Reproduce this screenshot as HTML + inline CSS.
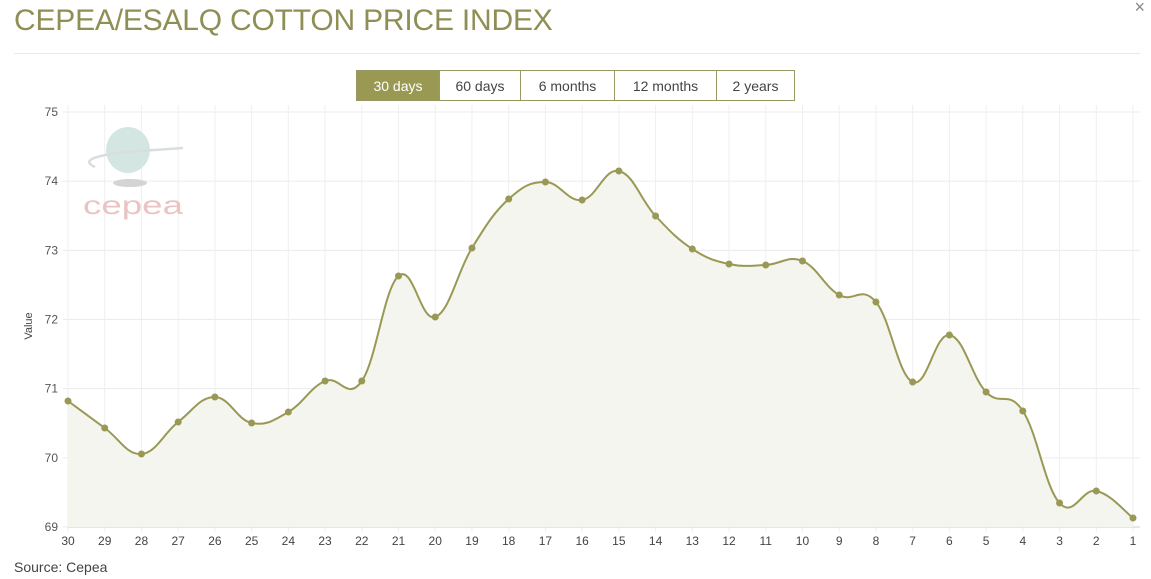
<!DOCTYPE html>
<html><head><meta charset="utf-8"><style>
body{margin:0;width:1151px;height:579px;background:#fff;overflow:hidden;font-family:"Liberation Sans",sans-serif;position:relative}
.t{position:absolute;left:14px;top:4px;font-size:30px;color:#8f8f55;letter-spacing:-0.2px}
.hr{position:absolute;left:14px;top:53px;width:1126px;height:1px;background:#e8e8e8}
.x{position:absolute;right:6px;top:-3px;font-size:18px;color:#888}
.btns{position:absolute;left:356px;top:70px;height:29px;display:flex;border:1px solid #999966}
.btns div{font-size:14px;color:#444;display:flex;align-items:center;justify-content:center;border-left:1px solid #999966;box-sizing:border-box}
.btns div:first-child{border-left:none;background:#999954;color:#fff}
.src{position:absolute;left:14px;top:559px;font-size:14px;color:#444}
svg{position:absolute;left:0;top:0}
</style></head><body>
<div class="t">CEPEA/ESALQ COTTON PRICE INDEX</div>
<div class="x">×</div>
<div class="hr"></div>
<div class="btns"><div style="width:82px">30 days</div><div style="width:81px">60 days</div><div style="width:94px">6 months</div><div style="width:102px">12 months</div><div style="width:78px">2 years</div></div>
<svg id="s" width="1151" height="579"></svg>
<div class="src">Source: Cepea</div>
<script>
var s=document.getElementById('s'),h='';
var x0=68,dx=(1133-68)/29;
// grid
for(var i=0;i<=6;i++){var y=112+i*(415/6);h+='<line x1="63" x2="1140" y1="'+y+'" y2="'+y+'" stroke="#ececec"/>';
h+='<text x="58" y="'+(y+4)+'" font-size="12" fill="#555" text-anchor="end">'+(75-i)+'</text>';}
var labs=[];for(var i=30;i>=1;i--)labs.push(i);
labs.forEach(function(l,i){var x=x0+i*dx;h+='<line x1="'+x+'" x2="'+x+'" y1="105" y2="532" stroke="#efefef"/>';
h+='<text x="'+x+'" y="545" font-size="12" fill="#444" text-anchor="middle">'+l+'</text>';});
// logo
h+='<ellipse cx="128" cy="150" rx="22" ry="23" fill="#d3e6e2"/><ellipse cx="130" cy="183" rx="17" ry="4" fill="#d4d4d4"/>';
h+='<path d="M95 167 Q75 158 125 152 L183 148" stroke="#d8dede" stroke-width="2.5" fill="none"/>';
h+='<text x="83" y="214" font-size="26" fill="#eac4c4" font-family="Liberation Sans" textLength="100" lengthAdjust="spacingAndGlyphs">cepea</text>';
h+='<line x1="68" x2="1140" y1="527" y2="527" stroke="#ccc"/>';
h+='<text transform="translate(32,326) rotate(-90)" font-size="11" fill="#444" text-anchor="middle">Value</text>';
var ys=[401,428,454,422,397,423,412,381,381,276,317,248,199,182,200,171,216,249,264,265,261,295,302,382,335,392,411,503,491,518];
var P=ys.map(function(y,i){return[x0+i*dx,y]});
var d='M'+P[0][0]+' '+P[0][1];
for(var i=0;i<P.length-1;i++){var p0=P[Math.max(i-1,0)],p1=P[i],p2=P[i+1],p3=P[Math.min(i+2,P.length-1)];
var t=0.2;d+=' C'+(p1[0]+(p2[0]-p0[0])*t)+' '+(p1[1]+(p2[1]-p0[1])*t)+' '+(p2[0]-(p3[0]-p1[0])*t)+' '+(p2[1]-(p3[1]-p1[1])*t)+' '+p2[0]+' '+p2[1];}
h+='<path d="'+d+' L'+P[29][0]+' 527 L68 527Z" fill="#f5f5f0"/>';
h+='<path d="'+d+'" stroke="#999955" stroke-width="2" fill="none"/>';
P.forEach(function(p){h+='<circle cx="'+p[0]+'" cy="'+p[1]+'" r="3.5" fill="#999955"/>';});
s.innerHTML=h;
</script>
</body></html>
